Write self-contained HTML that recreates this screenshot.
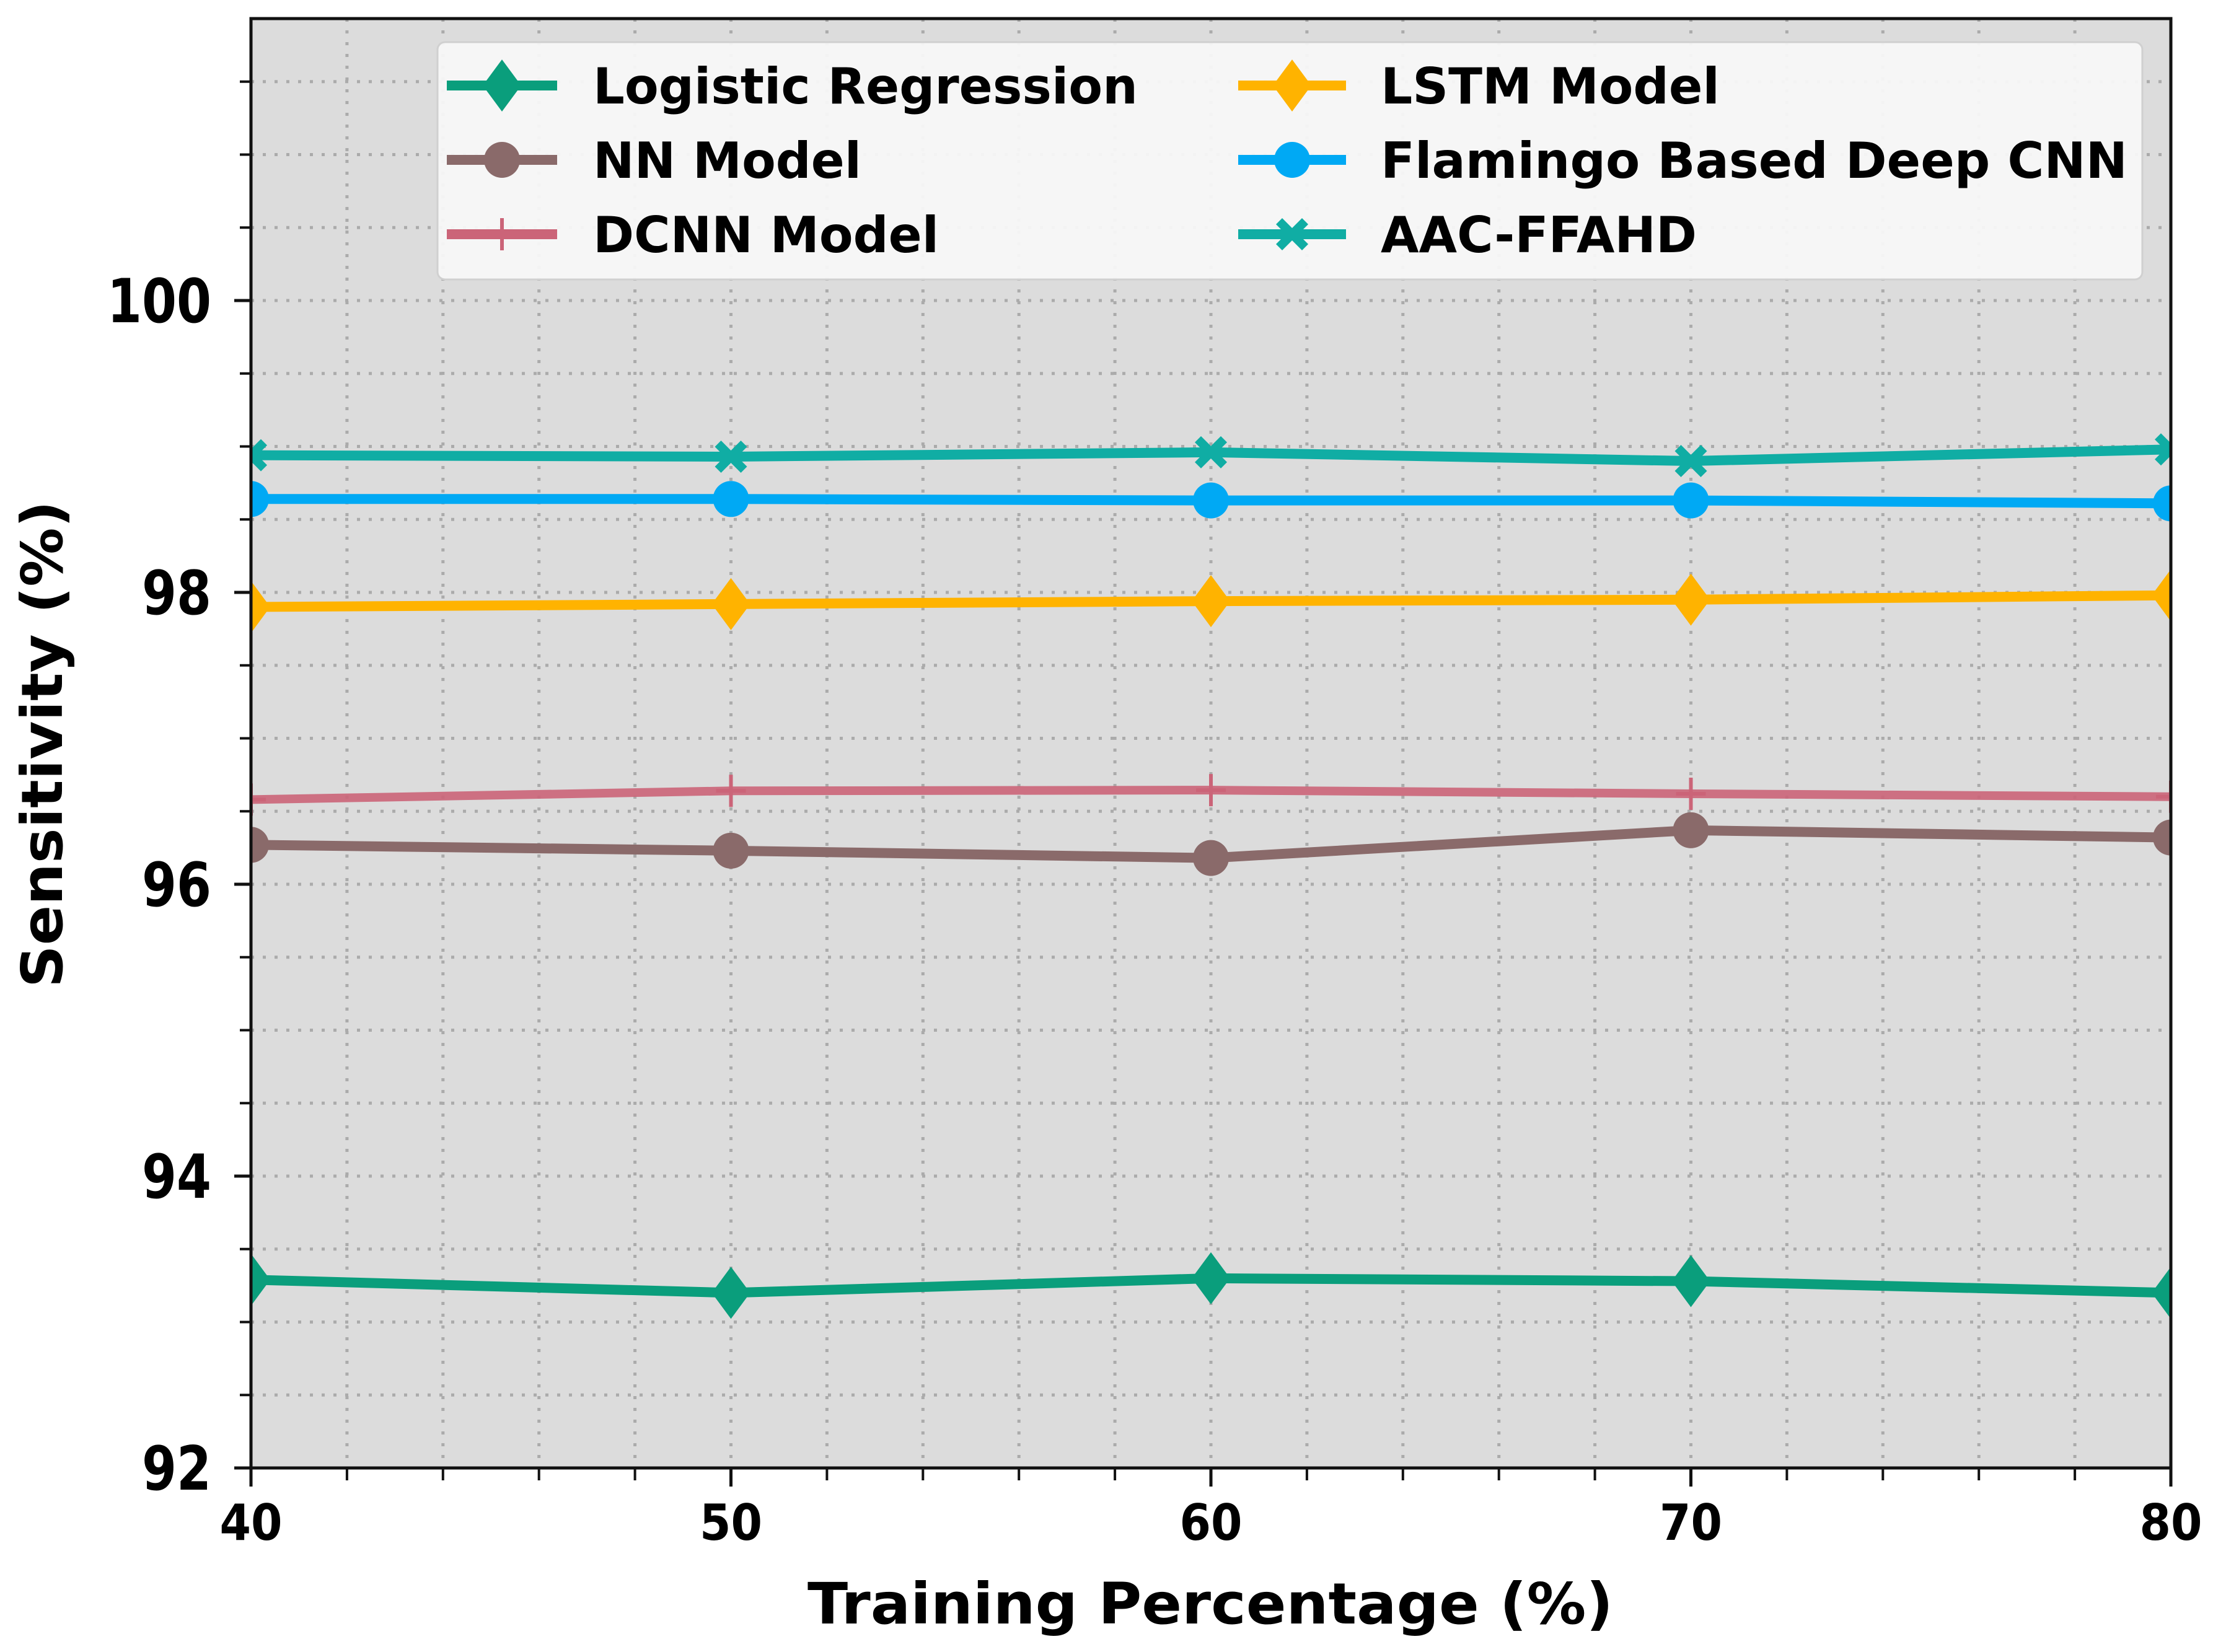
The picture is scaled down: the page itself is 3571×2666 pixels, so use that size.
<!DOCTYPE html>
<html><head><meta charset="utf-8"><style>
html,body{margin:0;padding:0;background:#fff}
svg{display:block}
text{font-family:"DejaVu Sans","Liberation Sans",sans-serif;font-weight:bold;fill:#000}
</style></head><body>
<svg id="chart" width="3571" height="2666" viewBox="0 0 3571 2666" xmlns="http://www.w3.org/2000/svg">
<defs><clipPath id="pc"><rect x="405" y="30" width="3098" height="2339"/></clipPath></defs>
<rect x="405" y="30" width="3098" height="2339" fill="#dcdcdc"/>
<g id="grid"></g>
<g id="series" clip-path="url(#pc)"></g>
<rect x="405" y="30" width="3098" height="2339" fill="none" stroke="#111" stroke-width="5"/>
<g id="ticks"></g>
<g id="legend"></g>
<text x="1953" y="2620" text-anchor="middle" font-size="92" textLength="1300" lengthAdjust="spacingAndGlyphs">Training Percentage (%)</text>
<text transform="translate(100,1201) rotate(-90)" text-anchor="middle" font-size="92" textLength="786" lengthAdjust="spacingAndGlyphs">Sensitivity (%)</text>
</svg>
<script>
const categories = [40, 50, 60, 70, 80];
const logisticValues = [93.29, 93.2, 93.3, 93.28, 93.2];
const nnValues = [96.27, 96.23, 96.18, 96.37, 96.32];
const dcnnValues = [96.58, 96.64, 96.645, 96.62, 96.6];
const lstmValues = [97.9, 97.92, 97.94, 97.95, 97.98];
const flamingoValues = [98.64, 98.64, 98.63, 98.63, 98.61];
const aacValues = [98.94, 98.93, 98.96, 98.9, 98.98];
const yTickLabels = ["92", "94", "96", "98", "100"];
const xTickLabels = ["40", "50", "60", "70", "80"];
const legendLabels = ["Logistic Regression", "NN Model", "DCNN Model", "LSTM Model", "Flamingo Based Deep CNN", "AAC-FFAHD"];

const NS = "http://www.w3.org/2000/svg";
const X0 = 405, X1 = 3503, Y0 = 2369, YT = 30;
const xmin = 40, xmax = 80, ymin = 92, ymax = 100 + (485 - 30) / 235.5;
function xs(v){ return X0 + (v - xmin) / (xmax - xmin) * (X1 - X0); }
function ys(v){ return Y0 - (v - ymin) / (ymax - ymin) * (Y0 - YT); }
function mk(tag, attrs, parent){ const e = document.createElementNS(NS, tag); for (const k in attrs) e.setAttribute(k, attrs[k]); parent.appendChild(e); return e; }

const grid = document.getElementById('grid');
const ticks = document.getElementById('ticks');
for (let v = xmin; v <= xmax; v += 2) {
  const major = (v % 10 === 0);
  const g = mk('line', {x1: xs(v), x2: xs(v), y1: YT, y2: Y0, stroke: '#ababab', 'stroke-width': 5, 'stroke-dasharray': '5 14'}, grid);
  
  
  const t = mk('line', {x1: xs(v), x2: xs(v), y1: Y0, y2: Y0 + (major ? 30 : 20), stroke: '#111', 'stroke-width': major ? 5 : 4}, ticks);
  
  
}
for (let v = ymin; v <= ymax + 1e-9; v += 0.5) {
  const major = Math.abs(v % 2) < 1e-9;
  const g = mk('line', {x1: X0, x2: X1, y1: ys(v), y2: ys(v), stroke: '#ababab', 'stroke-width': 5, 'stroke-dasharray': '5 14'}, grid);
  
  
  const t = mk('line', {x1: X0 - (major ? 27 : 18), x2: X0, y1: ys(v), y2: ys(v), stroke: '#111', 'stroke-width': major ? 5 : 4}, ticks);
  
  
}
yTickLabels.forEach(function(lab){
  const v = parseFloat(lab);
  const t = mk('text', {x: 341, y: ys(v) + 35, 'text-anchor': 'end', 'font-size': 98, textLength: 56 * lab.length, lengthAdjust: 'spacingAndGlyphs'}, ticks);
  t.textContent = lab;
  
  
});
xTickLabels.forEach(function(lab){
  const v = parseFloat(lab);
  const t = mk('text', {x: xs(v), y: 2485, 'text-anchor': 'middle', 'font-size': 80, textLength: 101, lengthAdjust: 'spacingAndGlyphs'}, ticks);
  t.textContent = lab;
  
  
});

function marker(type, cx, cy, color, parent, s){
  s = s || 1;
  let e;
  if (type === 'diamond') e = mk('polygon', {points: `${cx},${cy-42*s} ${cx+31*s},${cy} ${cx},${cy+42*s} ${cx-31*s},${cy}`, fill: color}, parent);
  else if (type === 'circle') e = mk('circle', {cx: cx, cy: cy, r: 29*s, fill: color}, parent);
  else if (type === 'plus') e = mk('path', {d: `M${cx-24*s},${cy}H${cx+24*s}M${cx},${cy-26*s}V${cy+26*s}`, stroke: color, 'stroke-width': 6, fill: 'none'}, parent);
  else {
    const a = 26*s, b = 10*s;
    e = mk('polygon', {points: `${cx-a},${cy-a+b} ${cx-a+b},${cy-a} ${cx},${cy-b} ${cx+a-b},${cy-a} ${cx+a},${cy-a+b} ${cx+b},${cy} ${cx+a},${cy+a-b} ${cx+a-b},${cy+a} ${cx},${cy+b} ${cx-a+b},${cy+a} ${cx-a},${cy+a-b} ${cx-b},${cy}`, fill: color}, parent);
  }
  return e;
}

const seriesDefs = [
  {vals: logisticValues, color: '#0a9e7c', m: 'diamond', name: 'logistic-regression'},
  {vals: nnValues, color: '#8a6a6a', m: 'circle', name: 'nn-model'},
  {vals: dcnnValues, color: '#cb6478', m: 'plus', name: 'dcnn-model'},
  {vals: lstmValues, color: '#ffb300', m: 'diamond', name: 'lstm-model'},
  {vals: flamingoValues, color: '#00a9f4', m: 'circle', name: 'flamingo-deep-cnn'},
  {vals: aacValues, color: '#10ada4', m: 'x', name: 'aac-ffahd'}
];
const sg = document.getElementById('series');
seriesDefs.forEach(function(s){
  const g = mk('g', {}, sg);
  
  
  const pts = s.vals.map((v, i) => xs(categories[i]) + ',' + ys(v)).join(' ');
  const pl = mk('polyline', {points: pts, fill: 'none', stroke: s.color, 'stroke-width': s.m === 'plus' ? 14 : 16, 'stroke-linejoin': 'round', 'stroke-opacity': s.m === 'plus' ? 0.9 : 1}, g);
  
  
  s.vals.forEach(function(v, i){
    const mm = marker(s.m, xs(categories[i]), ys(v), s.color, g);
    
    
  });
});

const lg = document.getElementById('legend');
const box = mk('rect', {x: 706, y: 68, width: 2751, height: 383, rx: 12, fill: '#f7f7f7', stroke: '#d0d0d0', 'stroke-width': 3, 'fill-opacity': 0.95}, lg);


const rowsY = [138, 258, 378];
const lineX = [[721, 899], [1998, 2172]];
const textX = [957, 2228];
const textW = [879, 433, 558, 547, 1205, 510];
seriesDefs.forEach(function(s, i){
  const col = Math.floor(i / 3), row = i % 3;
  const y = rowsY[row];
  const g = mk('g', {}, lg);
  
  
  mk('line', {x1: lineX[col][0], x2: lineX[col][1], y1: y, y2: y, stroke: s.color, 'stroke-width': 16}, g);
  marker(s.m, (lineX[col][0] + lineX[col][1]) / 2, y, s.color, g);
  const t = mk('text', {x: textX[col], y: y + 29, 'font-size': 80, textLength: textW[i], lengthAdjust: 'spacingAndGlyphs'}, g);
  t.textContent = legendLabels[i];
  
  
});
</script>
</body></html>
